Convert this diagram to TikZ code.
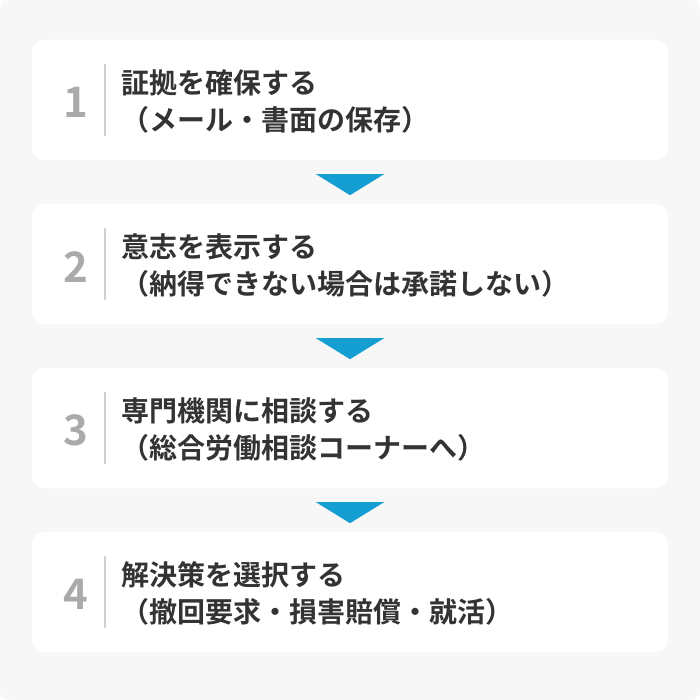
\documentclass[tikz,border=0pt]{standalone}
\usepackage{fontspec}
\newfontfamily\jp{Noto Sans CJK JP}[BoldFont={Noto Sans CJK JP Bold}]
\usetikzlibrary{calc}
\definecolor{bgc}{HTML}{F7F7F7}
\definecolor{txt}{HTML}{333333}
\definecolor{numc}{HTML}{AAAAAA}
\definecolor{sepc}{HTML}{D0D0D0}
\definecolor{arrc}{RGB}{20,158,210}
\tikzset{
  card/.style={fill=white, rounded corners=12pt, minimum width=636pt, minimum height=120pt, inner sep=0pt, draw=none},
  numlbl/.style={text=numc, font=\jp\bfseries\fontsize{42}{42}\selectfont, inner sep=0pt},
  line1/.style={text=txt, font=\jp\bfseries\fontsize{28}{36}\selectfont, inner sep=0pt, anchor=base west},
  sepline/.style={draw=sepc, line width=2pt},
  arrowtri/.style={fill=arrc, draw=none},
}
\begin{document}
\begin{tikzpicture}[x=1pt,y=-1pt]
\useasboundingbox (0,0) rectangle (700,700);
\fill[white] (0,0) rectangle (700,700);
\fill[bgc, rounded corners=10pt] (0,0) rectangle (700,700);
% cards
\node[card] (c1) at (350,100) {};
\node[card] (c2) at (350,264) {};
\node[card] (c3) at (350,428) {};
\node[card] (c4) at (350,592) {};
% numbers, separators, texts
\foreach \i/\ta/\tb in {1/証拠を確保する/（メール・書面の保存）,
                         2/意志を表示する/（納得できない場合は承諾しない）,
                         3/専門機関に相談する/（総合労働相談コーナーへ）,
                         4/解決策を選択する/（撤回要求・損害賠償・就活）}{
  \node[numlbl] (n\i) at ($(c\i.north west)+(44,63)$) {\i};
  \coordinate (s\i a) at ($(c\i.north west)+(73,24)$);
  \coordinate (s\i b) at ($(c\i.north west)+(73,96)$);
  \draw[sepline] (s\i a) -- (s\i b);
  \node[line1] (t\i a) at ($(c\i.north west)+(89,54)$) {\ta};
  \node[line1] (t\i b) at ($(c\i.north west)+(89,91)$) {\tb};
}
% arrows between cards
\foreach \i in {1,2,3}{
  \fill[arrowtri] ($(c\i.south)+(-34,14)$) -- ($(c\i.south)+(34,14)$) -- ($(c\i.south)+(0,35)$) -- cycle;
}
\end{tikzpicture}
\end{document}
